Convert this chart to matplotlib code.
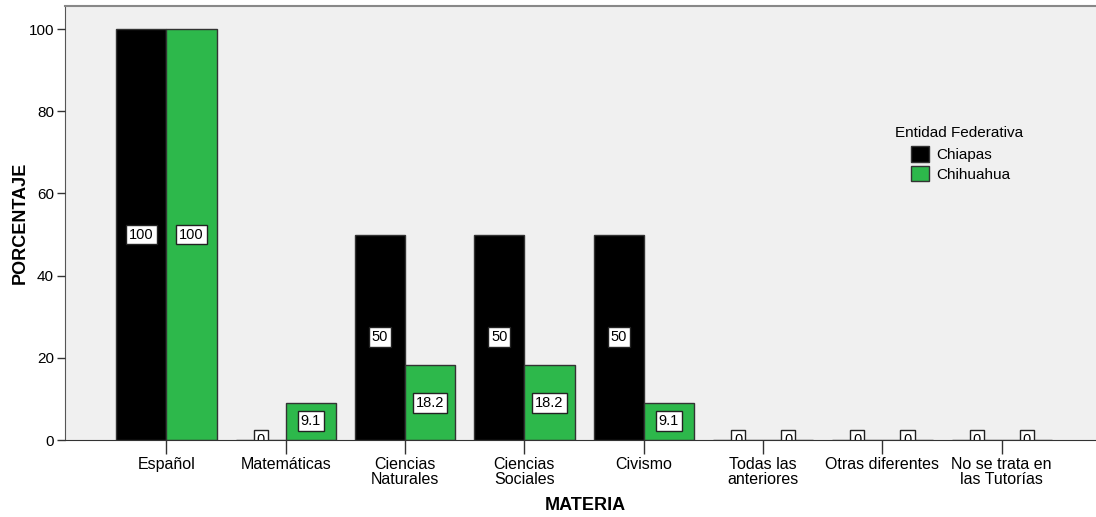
import matplotlib
matplotlib.use("Agg")
import matplotlib.pyplot as plt
import numpy as np
from matplotlib.patches import Patch, Rectangle

plt.rcParams['font.family'] = ['Liberation Sans', 'DejaVu Sans']

categories = ["Español", "Matemáticas", "Ciencias\nNaturales", "Ciencias\nSociales",
              "Civismo", "Todas las\nanteriores", "Otras diferentes", "No se trata en\nlas Tutorías"]
chiapas = [100, 0, 50, 50, 50, 0, 0, 0]
chihuahua = [100, 9.1, 18.2, 18.2, 9.1, 0, 0, 0]
chiapas_labels = ["100", "0", "50", "50", "50", "0", "0", "0"]
chihuahua_labels = ["100", "9.1", "18.2", "18.2", "9.1", "0", "0", "0"]
series_names = ["Chiapas", "Chihuahua"]
legend_title = "Entidad Federativa"
colors = ["#000000", "#2db84b"]

fig = plt.figure(figsize=(10.96, 5.17), dpi=100)
ax = fig.add_axes([65/1096, 77/517, 1 - 65/1096, (440-6)/517])
ax.set_facecolor("#f0f0f0")

x = np.arange(len(categories))
w = 0.42
for vals, labs, off, col in [(chiapas, chiapas_labels, -w/2, colors[0]),
                             (chihuahua, chihuahua_labels, w/2, colors[1])]:
    ax.bar(x + off, vals, width=w, color=col, edgecolor="#333333", linewidth=1, zorder=2)
    for xi, v, lab in zip(x, vals, labs):
        ax.text(xi + off, v/2, lab, ha="center", va="center", fontsize=10.5, zorder=4,
                bbox=dict(boxstyle="square,pad=0.2", fc="white", ec="#222222", lw=1))

# mask anything drawn below the baseline (labels of zero-height bars are cut off there)
ax.add_patch(Rectangle((0, -0.2), 1, 0.2, transform=ax.transAxes, facecolor="white",
                       edgecolor="none", clip_on=False, zorder=4.5))
ax.xaxis.set_zorder(5)
ax.yaxis.set_zorder(5)
for s in ax.spines.values():
    s.set_zorder(5)

ax.set_xlim(-0.85, 7.79)
ax.set_ylim(0, 105.6)
ax.set_yticks([0, 20, 40, 60, 80, 100])
ax.set_xticks(x)
ax.set_xticklabels(categories, fontsize=11.5, linespacing=1.0)
ax.tick_params(axis="x", length=10, width=1, color="#333333", pad=2)
ax.tick_params(axis="y", length=6, width=1, color="#333333", labelsize=11, pad=2)
ax.spines["right"].set_visible(False)
ax.spines["top"].set_color("#888888")
ax.spines["top"].set_linewidth(1.5)
ax.spines["left"].set_color("#555555")
ax.spines["bottom"].set_color("#333333")

ax.set_ylabel("PORCENTAJE", fontsize=13, fontweight="bold", va="center")
ax.yaxis.set_label_coords((20 - 65) / 1031, 0.5)
ax.set_xlabel("MATERIA", fontsize=13, fontweight="bold", va="center")
ax.xaxis.set_label_coords((585 - 65) / 1031, (440 - 505) / 434)

fig.text(895/1096, 1 - 133/517, legend_title, fontsize=11, ha="left", va="center")
handles = [Patch(facecolor=colors[0], edgecolor="#333333", label=series_names[0]),
           Patch(facecolor=colors[1], edgecolor="#333333", label=series_names[1])]
leg = ax.legend(handles=handles, frameon=False,
                loc="upper left", bbox_to_anchor=((911-65)/1031, (440-146)/434),
                fontsize=11, handlelength=1.2, handleheight=1.2,
                handletextpad=0.45, labelspacing=0.25, borderpad=0, borderaxespad=0)

fig.savefig("out.png", dpi=100)
